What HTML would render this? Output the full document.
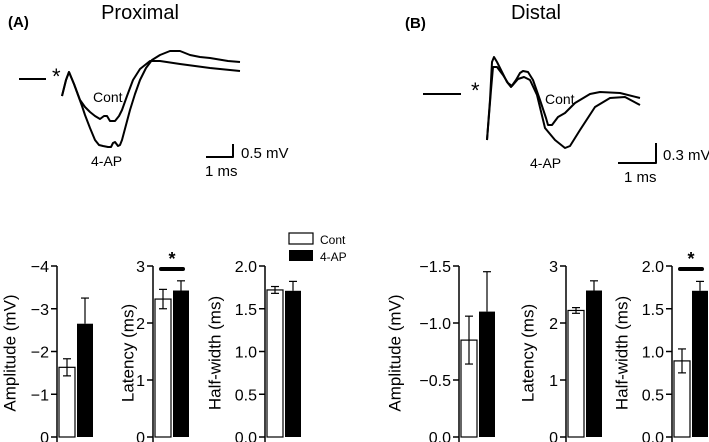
<!DOCTYPE html>
<html><head><meta charset="utf-8"><style>
body{margin:0;background:#fff}
svg{display:block;font-family:"Liberation Sans",Arial,sans-serif}
</style></head><body>
<svg id="fig" width="709" height="442" viewBox="0 0 709 442">
<g fill="none" stroke="#000" stroke-width="2" stroke-linejoin="round">
<text x="140" y="19" font-size="20" text-anchor="middle" stroke="none" fill="#000">Proximal</text>
<text x="8" y="27" font-size="15" font-weight="bold" stroke="none" fill="#000">(A)</text>
<line x1="19" y1="79" x2="46" y2="79"/>
<text x="52" y="84" font-size="22" stroke="none" fill="#000">*</text>
<polyline points="62,96 66,80 69,72 74,84 80,100 85,107 90,112 95,116 100,119 104,116 107,116 110,121 115,121 119,116 122,110 127,96 133,80 140,69 150,61 160,61 180,64 210,68 240,71"/>
<polyline points="62,96 66,80 69,72 74,84 78,95 82,106 85,115 90,128 95,140 99,145 103,146 108,147 111,147 113,143 115,142 118,146 120,145 122,140 126,125 130,110 135,94 140,80 146,68 152,60 160,55 170,51 180,51 190,55 200,57 210,58 228,61 240,62"/>
<text x="93" y="102" font-size="14" stroke="none" fill="#000">Cont</text>
<text x="91" y="166" font-size="14" stroke="none" fill="#000">4-AP</text>
<polyline points="206,157 233,157 233,144"/>
<text x="241" y="158" font-size="15" stroke="none" fill="#000">0.5 mV</text>
<text x="205" y="176" font-size="15" stroke="none" fill="#000">1 ms</text>
</g>
<g fill="none" stroke="#000" stroke-width="2" stroke-linejoin="round">
<text x="536" y="19" font-size="20" text-anchor="middle" stroke="none" fill="#000">Distal</text>
<text x="405" y="28" font-size="15" font-weight="bold" stroke="none" fill="#000">(B)</text>
<line x1="423" y1="94" x2="461" y2="94"/>
<text x="471" y="98" font-size="22" stroke="none" fill="#000">*</text>
<polyline points="487,140 490,100 492,62 494,57 497,62 502,72 507,82 511,87 516,80 520,73 523,71 528,72 533,80 540,100 546,118 548,125 552,125 558,117 565,113 575,103 590,94 600,92 620,93 640,98"/>
<polyline points="487,140 491,90 493,67 497,67 503,75 508,83 512,86 518,79 524,77 530,80 537,95 545,128 555,140 565,148 570,146 580,130 595,107 610,98 625,97 640,105"/>
<text x="545" y="104" font-size="14" stroke="none" fill="#000">Cont</text>
<text x="530" y="168" font-size="14" stroke="none" fill="#000">4-AP</text>
<polyline points="618,163 656,163 656,143"/>
<text x="663" y="160" font-size="15" stroke="none" fill="#000">0.3 mV</text>
<text x="624" y="182" font-size="15" stroke="none" fill="#000">1 ms</text>
</g>
<g>
<rect x="289" y="233" width="24" height="11" fill="#fff" stroke="#000" stroke-width="1.2"/>
<rect x="289" y="250" width="24" height="11" fill="#000"/>
<text x="320" y="244" font-size="12">Cont</text>
<text x="320" y="261" font-size="12">4-AP</text>
</g>
</svg>
<script>
const chartTitles=["Amplitude (mV)","Latency (ms)","Half-width (ms)","Amplitude (mV)","Latency (ms)","Half-width (ms)"];
const chartMax=[4,3,2,1.5,3,2];
const tickLabels=[["0","\u22121","\u22122","\u22123","\u22124"],["0","1","2","3"],["0.0","0.5","1.0","1.5","2.0"],["0.0","\u22120.5","\u22121.0","\u22121.5"],["0","1","2","3"],["0.0","0.5","1.0","1.5","2.0"]];
const tickValues=[[0,1,2,3,4],[0,1,2,3],[0,0.5,1,1.5,2],[0,0.5,1,1.5],[0,1,2,3],[0,0.5,1,1.5,2]];
const contValues=[1.63,2.42,1.72,0.85,2.22,0.89];
const contErrors=[0.2,0.17,0.04,0.21,0.05,0.14];
const apValues=[2.65,2.57,1.71,1.1,2.57,1.71];
const apErrors=[0.6,0.17,0.11,0.35,0.17,0.11];
const significant=[false,true,false,false,false,true];
const axisX=[57,153,265,459,566,672];
const titleX=[10,128,215,395,528,622];
const NS="http://www.w3.org/2000/svg";
const svg=document.getElementById('fig');
const Y0=437,YT=266;
function mk(t,a,p){const e=document.createElementNS(NS,t);for(const k in a)e.setAttribute(k,a[k]);(p||svg).appendChild(e);return e;}
for(let i=0;i<6;i++){
  const g=mk('g',{});
  
  
  const ax=axisX[i];
  const y=v=>Y0-(v/chartMax[i])*(Y0-YT);
  const yl=mk('line',{x1:ax,y1:YT,x2:ax,y2:Y0+6,stroke:'#000','stroke-width':1.5},g);
  
  
  tickValues[i].forEach((tv,j)=>{
    const tk=mk('line',{x1:ax-6,y1:y(tv),x2:ax,y2:y(tv),stroke:'#000','stroke-width':1.5},g);
    
    
    const tl=mk('text',{x:ax-8,y:y(tv)+6,'font-size':16,'text-anchor':'end'},g);
    tl.textContent=tickLabels[i][j];
    
    
  });
  const tt=mk('text',{x:titleX[i],y:353,'font-size':17,'text-anchor':'middle',transform:`rotate(-90 ${titleX[i]} 353)`,'dominant-baseline':'central'},g);
  tt.textContent=chartTitles[i];
  
  
  const bw=16,x1=ax+2,x2=ax+20;
  const eb=(cx,v,e,both)=>{
    const top=y(v+e),bot=both?y(v-e):y(v);
    const l=mk('line',{x1:cx,y1:top,x2:cx,y2:bot,stroke:'#000','stroke-width':1.2},g);
    
    
    const c=mk('line',{x1:cx-4,y1:top,x2:cx+4,y2:top,stroke:'#000','stroke-width':1.2},g);
    
    
    if(both){const c2=mk('line',{x1:cx-4,y1:bot,x2:cx+4,y2:bot,stroke:'#000','stroke-width':1.2},g);
      
      }
  };
  const b1=mk('rect',{x:x1,y:y(contValues[i]),width:bw,height:Y0-y(contValues[i]),fill:'#fff',stroke:'#000','stroke-width':1.2},g);
  
  
  eb(x1+bw/2,contValues[i],contErrors[i],true);
  eb(x2+bw/2,apValues[i],apErrors[i],false);
  const b2=mk('rect',{x:x2,y:y(apValues[i]),width:bw,height:Y0-y(apValues[i]),fill:'#000'},g);
  
  
  if(significant[i]){
    const s=mk('line',{x1:x1+6,y1:YT+3,x2:x2+10,y2:YT+3,stroke:'#000','stroke-width':4,'stroke-linecap':'round'},g);
    
    
    const st=mk('text',{x:(x1+x2+16)/2,y:YT-1,'font-size':18,'font-weight':'bold','text-anchor':'middle'},g);
    st.textContent='*';
    
    
  }
}
</script>
</body></html>
